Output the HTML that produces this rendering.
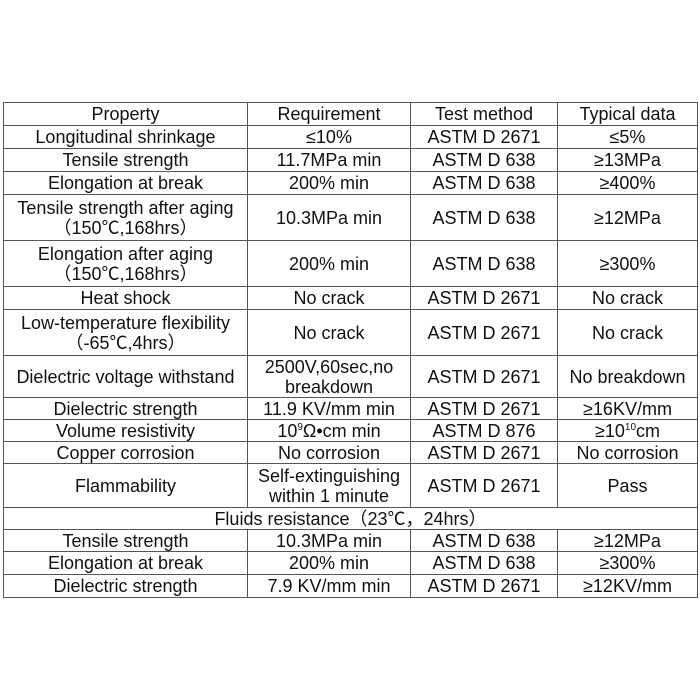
<!DOCTYPE html>
<html><head><meta charset="utf-8"><style>
body{margin:0;background:#fff;width:700px;height:700px;overflow:hidden}
table{position:absolute;left:3px;top:102px;border-collapse:collapse;table-layout:fixed;font-family:"Liberation Sans","Noto Sans CJK SC",sans-serif;font-size:18px;color:#111}
td{border:1px solid #555;text-align:center;padding:0;line-height:20px;overflow:hidden;white-space:nowrap}
sup{font-size:10px;line-height:0}
</style></head><body>
<table>
<colgroup><col style="width:244px"><col style="width:163px"><col style="width:147px"><col style="width:140px"></colgroup>
<tr style="height:23px"><td>Property</td><td>Requirement</td><td>Test method</td><td>Typical data</td></tr>
<tr style="height:23px"><td>Longitudinal shrinkage</td><td>≤10%</td><td>ASTM D 2671</td><td>≤5%</td></tr>
<tr style="height:23px"><td>Tensile strength</td><td>11.7MPa min</td><td>ASTM D 638</td><td>≥13MPa</td></tr>
<tr style="height:23px"><td>Elongation at break</td><td>200% min</td><td>ASTM D 638</td><td>≥400%</td></tr>
<tr style="height:46px"><td>Tensile strength after aging<br>（150℃,168hrs）</td><td>10.3MPa min</td><td>ASTM D 638</td><td>≥12MPa</td></tr>
<tr style="height:46px"><td>Elongation after aging<br>（150℃,168hrs）</td><td>200% min</td><td>ASTM D 638</td><td>≥300%</td></tr>
<tr style="height:23px"><td>Heat shock</td><td>No crack</td><td>ASTM D 2671</td><td>No crack</td></tr>
<tr style="height:46px"><td>Low-temperature flexibility<br>（-65℃,4hrs）</td><td>No crack</td><td>ASTM D 2671</td><td>No crack</td></tr>
<tr style="height:42px"><td>Dielectric voltage withstand</td><td>2500V,60sec,no<br>breakdown</td><td>ASTM D 2671</td><td>No breakdown</td></tr>
<tr style="height:22px"><td>Dielectric strength</td><td>11.9 KV/mm min</td><td>ASTM D 2671</td><td>≥16KV/mm</td></tr>
<tr style="height:22px"><td>Volume resistivity</td><td>10<sup>9</sup>Ω•cm min</td><td>ASTM D 876</td><td>≥10<sup>10</sup>cm</td></tr>
<tr style="height:22px"><td>Copper corrosion</td><td>No corrosion</td><td>ASTM D 2671</td><td>No corrosion</td></tr>
<tr style="height:44px"><td>Flammability</td><td>Self-extinguishing<br>within 1 minute</td><td>ASTM D 2671</td><td>Pass</td></tr>
<tr style="height:22px"><td colspan="4">Fluids resistance（23℃，24hrs）</td></tr>
<tr style="height:22px"><td>Tensile strength</td><td>10.3MPa min</td><td>ASTM D 638</td><td>≥12MPa</td></tr>
<tr style="height:23px"><td>Elongation at break</td><td>200% min</td><td>ASTM D 638</td><td>≥300%</td></tr>
<tr style="height:23px"><td>Dielectric strength</td><td>7.9 KV/mm min</td><td>ASTM D 2671</td><td>≥12KV/mm</td></tr>
</table>
</body></html>
